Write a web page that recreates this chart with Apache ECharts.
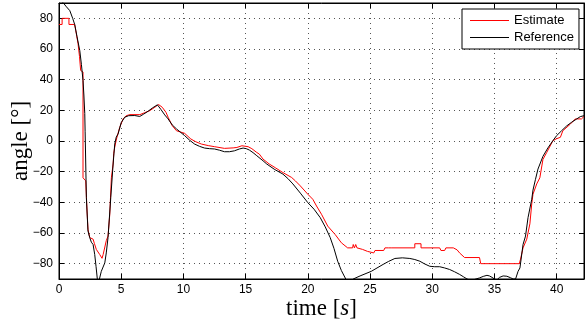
<!DOCTYPE html>
<html>
<head>
<meta charset="utf-8">
<script src="https://cdn.jsdelivr.net/npm/echarts@6/dist/echarts.min.js"></script>
<style>html,body{margin:0;padding:0;background:#fff;}#c{width:586px;height:325px;}</style>
</head>
<body>
<div id="c"></div>
<script>
// Reference curve (time [s], angle [deg])
var refTime = [0,0.3,0.6,0.87,1.1,1.26,1.45,1.67,1.8,1.93,2.0,2.07,2.1,2.15,2.2,2.33,2.47,2.6,2.74,2.87,2.98,3.08,3.15,3.25,3.4,3.68,3.8,3.94,4.16,4.35,4.48,4.6,4.75,5.0,5.29,5.6,6.09,6.49,6.8,7.16,7.5,7.91,8.2,8.5,8.77,9.1,9.44,9.8,10.1,10.5,10.9,11.3,11.7,12.1,12.5,12.9,13.3,13.7,14.1,14.5,14.8,15.05,15.3,15.6,15.9,16.4,16.7,17.3,18.0,18.4,18.8,19.4,20.0,20.5,21.0,21.4,21.8,22.1,22.4,22.7,23.05,23.35,23.65,24.2,25.1,26.05,26.5,27.0,27.6,28.2,28.6,29.0,29.4,29.8,30.2,30.6,31.0,31.4,31.8,32.2,32.5,32.8,33.1,33.4,33.8,34.1,34.4,34.6,34.8,35.0,35.2,35.4,35.7,36.0,36.3,36.5,36.7,36.9,37.05,37.3,37.5,37.7,38.0,38.1,38.3,38.5,38.9,39.3,39.7,40.0,40.4,40.8,41.2,41.6,41.9,42.2];
var refAngle = [92,90.5,87.5,85,80,76,68,59,50,39.5,30,18,6,-15,-37,-58.7,-63,-66,-67.5,-74,-82,-90,-93,-90,-85,-79.5,-73,-63,-37,-15,-2,2.5,4.6,12,15.5,16.5,16.6,16,17.5,19.4,21.5,23.6,20.5,17,14.4,10.5,7.9,5.5,3.5,0.5,-2,-3.5,-4.6,-5,-5.2,-6,-7,-7,-6.4,-5.2,-4.6,-5,-5.9,-7.6,-9.6,-12.9,-15,-18.4,-21.6,-24.5,-28,-34,-40.2,-44.5,-50,-56,-63,-70,-78.4,-84.5,-90,-92,-90,-88,-85,-80.5,-78.5,-76.6,-76.2,-76.6,-77.3,-78.4,-80.2,-81.7,-82,-82,-82.8,-83.8,-85.3,-87,-88.5,-90,-90.8,-90.3,-89.3,-88.3,-87.6,-88,-88.9,-90,-90.6,-89,-88,-88.2,-89.2,-90,-90,-85,-82.8,-67.5,-62,-50,-38,-32,-25,-18.3,-10,-4.5,0.2,3.5,6.7,9.8,12.2,14.3,15.9,16.5];

// Estimate curve (time [s], angle [deg])
var estTime = [0,0.25,0.25,0.8,0.8,1.26,1.35,1.53,1.65,1.74,1.93,1.93,2.15,2.25,2.33,2.47,2.74,2.85,3.0,3.27,3.4,3.46,3.55,3.62,3.8,3.94,4.08,4.21,4.35,4.4,4.48,4.62,4.88,5.15,5.4,5.7,6.5,6.9,7.3,7.7,8.0,8.3,8.6,8.77,9.1,9.44,9.57,10.1,10.6,11.0,11.45,12.0,12.5,13.3,14.0,14.3,14.7,15.2,15.5,15.9,16.1,16.4,16.9,17.4,18.0,18.7,19.0,19.4,20.0,20.4,20.7,21.1,21.6,22.2,22.7,23.2,23.6,23.65,23.75,23.85,23.95,24.4,24.8,24.85,25.3,25.4,26.1,26.2,26.5,26.55,26.7,28.6,28.6,29.1,29.1,30.6,30.7,31.0,31.1,31.7,32.0,32.2,32.6,33.8,33.9,37.0,37.1,37.3,37.6,37.85,38.0,38.1,38.4,38.65,38.9,39.2,39.7,40.0,40.3,40.5,41.1,41.5,42.0,42.2];
var estAngle = [76,76,80,80,76,76,72,63.5,55,46,45,-24,-26,-45,-57.6,-63,-64,-67,-70.7,-74,-74,-76.5,-74,-73,-65,-62,-48,-24,-15,-8,-4,1.3,8.9,14.4,16.5,17.2,17.2,18.5,19.8,22,23.8,22,18.7,15.5,10,6.7,5.6,5,1.3,-0.5,-2,-3,-3.7,-4.8,-4.5,-4.2,-3.1,-3.7,-5,-7.5,-8.5,-11.8,-15,-17.5,-20.6,-23.8,-26,-29.3,-34.7,-38,-42.4,-47.8,-55.5,-61,-66.4,-69.7,-69.7,-67.5,-69.7,-67.5,-69.7,-70.7,-72,-73,-73,-71.4,-71.4,-69.7,-69.7,-71,-69.7,-69.7,-67,-67,-69.7,-69.7,-71.4,-71.4,-69.7,-69.7,-71,-73,-76,-76,-80,-80,-77,-69.7,-64,-54,-41,-34.7,-28,-24,-12,-7.5,0.2,1.5,2.4,6.7,11,14.4,14.4,16];

var xTicks = [0,5,10,15,20,25,30,35,40];
var yTicks = [-80,-60,-40,-20,0,20,40,60,80];

function pairs(t, v) { return t.map(function (x, i) { return [x, v[i]]; }); }
function fmt(v) { return String(v).replace('-', '\u2212'); }

var chart = echarts.init(document.getElementById('c'), null, { renderer: 'canvas' });
var labelFont = { color: '#000', fontSize: 12, fontFamily: 'Liberation Sans, Arial, sans-serif' };
var xMin = 0, xMax = 42.2, yMin = -90, yMax = 90;
var gridDots = { show: true, lineStyle: { color: '#555', width: 1, type: [1, 4] } };

chart.setOption({
  animation: false,
  backgroundColor: '#fff',
  grid: { left: 59, right: 2, top: 3, bottom: 46, outerBoundsMode: 'none', containLabel: false, show: true, borderColor: '#000', borderWidth: 1, backgroundColor: 'transparent' },
  legend: {
    left: 462, top: 9, orient: 'vertical', icon: 'rect',
    padding: [4, 5, 4, 8], itemGap: 2, itemWidth: 39, itemHeight: 1, itemTextGap: 5,
    backgroundColor: '#fff', borderColor: '#000', borderWidth: 1,
    textStyle: { color: '#000', fontSize: 13, lineHeight: 15, fontFamily: 'Liberation Sans, Arial, sans-serif' },
    data: ['Estimate', 'Reference']
  },
  xAxis: [{
    type: 'value', min: xMin, max: xMax, interval: 5,
    name: 'time [{i|s}]', nameLocation: 'middle', nameGap: 18, nameMoveOverlap: false,
    nameTextStyle: { color: '#000', fontSize: 23, fontFamily: 'Liberation Serif, Times New Roman, serif', rich: { i: { fontStyle: 'italic', fontSize: 23, fontFamily: 'Liberation Serif, Times New Roman, serif' } } },
    axisLine: { show: true, onZero: false, lineStyle: { color: '#000', width: 1 } },
    axisTick: { show: true, inside: true, length: 5, lineStyle: { color: '#000' } },
    axisLabel: { margin: 5, showMaxLabel: false, formatter: function (v) { return xTicks.indexOf(v) >= 0 ? fmt(v) : ''; }, ...labelFont },
    splitLine: gridDots
  }, {
    type: 'value', min: xMin, max: xMax, interval: 5, position: 'top',
    axisLine: { show: true, onZero: false, lineStyle: { color: '#000' } },
    axisTick: { show: true, inside: true, length: 5, lineStyle: { color: '#000' } },
    axisLabel: { show: false }, splitLine: { show: false }
  }],
  yAxis: [{
    type: 'value', min: yMin, max: yMax, splitNumber: 9,
    name: 'angle [°]', nameLocation: 'middle', nameGap: 27, nameRotate: 90, nameMoveOverlap: false,
    nameTextStyle: { color: '#000', fontSize: 23, fontFamily: 'Liberation Serif, Times New Roman, serif' },
    axisLine: { show: true, onZero: false, lineStyle: { color: '#000', width: 1 } },
    axisTick: { show: true, inside: true, length: 5, lineStyle: { color: '#000' } },
    axisLabel: { margin: 6, showMinLabel: false, showMaxLabel: false, formatter: function (v) { return yTicks.indexOf(v) >= 0 ? fmt(v) : ''; }, ...labelFont },
    splitLine: gridDots
  }, {
    type: 'value', min: yMin, max: yMax, splitNumber: 9, position: 'right',
    axisLine: { show: true, onZero: false, lineStyle: { color: '#000' } },
    axisTick: { show: true, inside: true, length: 5, lineStyle: { color: '#000' } },
    axisLabel: { show: false }, splitLine: { show: false }
  }],
  series: [{
    name: 'Estimate', type: 'line', xAxisIndex: 0, yAxisIndex: 0,
    data: pairs(estTime, estAngle), symbol: 'none', clip: true,
    lineStyle: { color: '#ff0000', width: 1 }, itemStyle: { color: '#ff0000' }
  }, {
    name: 'Reference', type: 'line', xAxisIndex: 0, yAxisIndex: 0,
    data: pairs(refTime, refAngle), symbol: 'none', clip: true,
    lineStyle: { color: '#000', width: 1 }, itemStyle: { color: '#000' }
  }]
});
</script>
</body>
</html>
